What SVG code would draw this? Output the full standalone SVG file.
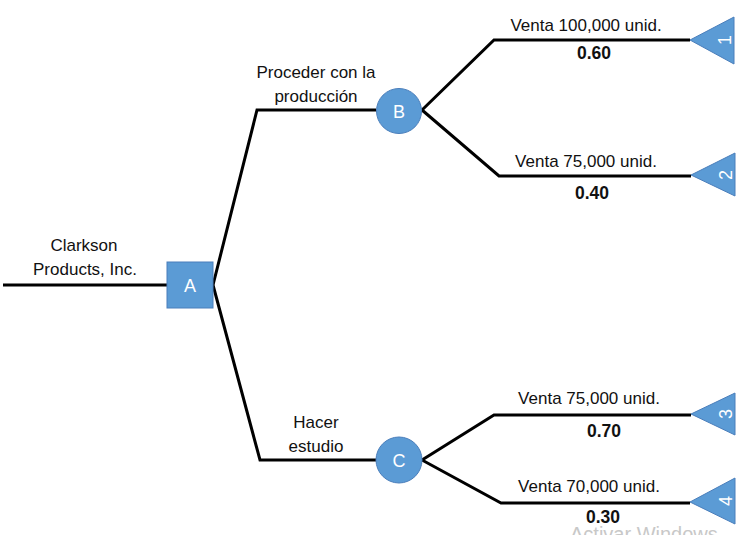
<svg xmlns="http://www.w3.org/2000/svg" width="747" height="535" viewBox="0 0 747 535">
<style>
.ln{fill:none;stroke:#000;stroke-width:3;stroke-linejoin:miter}
.nd{fill:#5B9BD5;stroke:#4A7EBB;stroke-width:1}
.t{font-family:"Liberation Sans",Arial,sans-serif;font-size:17px;fill:#111;text-anchor:middle}
.b{font-weight:bold;font-size:17.5px}
.w{font-family:"Liberation Sans",Arial,sans-serif;font-size:18px;fill:#fff;text-anchor:middle}
.wm{font-family:"Liberation Sans",Arial,sans-serif;font-size:20px;fill:#c8c8c8}
</style>
<rect width="747" height="535" fill="#fff"/>
<g id="connectors">
<polyline class="ln" points="3,285 167,285"/>
<polyline class="ln" points="213,285 257,110 376,110"/>
<polyline class="ln" points="213,285 260,460 376,460"/>
<polyline class="ln" points="422,110 494,40 690,40"/>
<polyline class="ln" points="422,110 499,176 691,176"/>
<polyline class="ln" points="422,460 494,415 691,415"/>
<polyline class="ln" points="422,460 501,503 690,503"/>
</g>
<g id="labels">
<text class="t" x="84" y="251">Clarkson</text>
<text class="t" x="85" y="275">Products, Inc.</text>
<text class="t" x="316" y="78">Proceder con la</text>
<text class="t" x="316" y="102">producción</text>
<text class="t" x="316" y="428">Hacer</text>
<text class="t" x="316" y="452">estudio</text>
<text class="t" x="586" y="31">Venta 100,000 unid.</text>
<text class="t b" x="594" y="59">0.60</text>
<text class="t" x="586" y="167">Venta 75,000 unid.</text>
<text class="t b" x="592" y="199">0.40</text>
<text class="t" x="589" y="404">Venta 75,000 unid.</text>
<text class="t b" x="604" y="437">0.70</text>
<text class="t" x="589" y="492">Venta 70,000 unid.</text>
<text class="t b" x="603" y="523">0.30</text>
</g>
<g id="nodeA">
<rect class="nd" x="167" y="262" width="46" height="46"/>
<text class="w" x="190" y="292">A</text>
</g>
<g id="nodeB">
<circle class="nd" cx="399" cy="111" r="22.5"/>
<text class="w" x="399" y="118">B</text>
</g>
<g id="nodeC">
<circle class="nd" cx="399" cy="460" r="23"/>
<text class="w" x="399" y="467">C</text>
</g>
<g id="end1">
<polygon class="nd" points="690,40 734,17 734,64"/>
<text class="w" transform="translate(725,40) rotate(-90)" y="6">1</text>
</g>
<g id="end2">
<polygon class="nd" points="691,175 735,153 735,196"/>
<text class="w" transform="translate(726,175) rotate(-90)" y="6">2</text>
</g>
<g id="end3">
<polygon class="nd" points="691,414 735,393 735,435"/>
<text class="w" transform="translate(726,414) rotate(-90)" y="6">3</text>
</g>
<g id="end4">
<polygon class="nd" points="690,502 735,478 735,524"/>
<text class="w" transform="translate(726,501) rotate(-90)" y="6">4</text>
</g>
<text class="wm" x="570" y="541">Activar Windows</text>
</svg>
